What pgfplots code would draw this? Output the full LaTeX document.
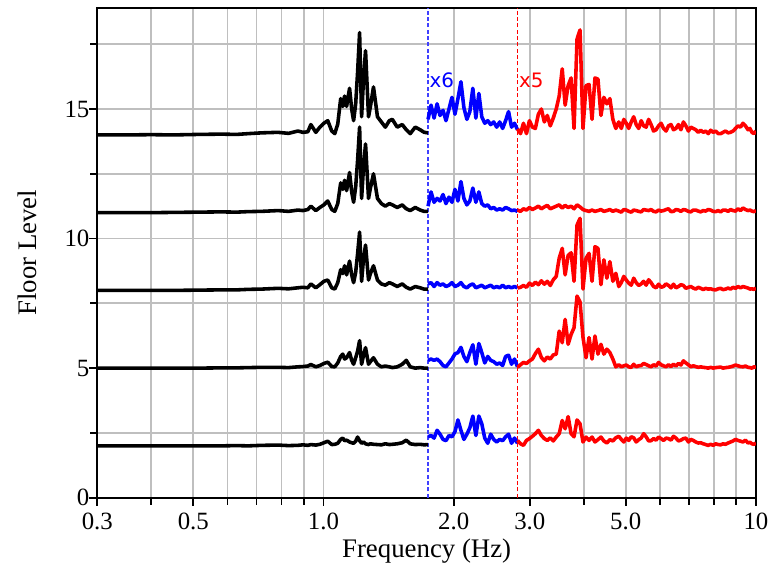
\documentclass[border=0pt]{standalone}
\usepackage{fontspec}
\setmainfont{Liberation Serif}
\newfontfamily\markfont{DejaVu Sans}
\usepackage{pgfplots}
\usepackage{pgfplotstable}
\pgfplotsset{compat=1.18}

% spectra by floor: a=14, b=11, c=8, d=5, e=2 (offset baselines)
\pgfplotstableread{
f a b c d e
0.300 14.00 11.00 8.00 5.00 2.00
0.350 14.00 11.00 8.00 5.00 2.00
0.400 14.01 11.00 8.00 5.00 2.00
0.450 14.00 11.01 8.00 5.00 2.00
0.515 14.02 11.02 8.01 5.00 2.00
0.580 14.03 11.03 8.02 5.01 2.00
0.630 14.02 11.02 8.02 5.01 2.01
0.670 14.05 11.04 8.04 5.02 2.00
0.720 14.08 11.05 8.05 5.03 2.02
0.785 14.10 11.08 8.08 5.03 2.03
0.830 14.06 11.05 8.06 5.02 2.01
0.873 14.15 11.10 8.10 5.05 2.02
0.896 14.10 11.08 8.12 5.06 2.04
0.920 14.12 11.12 8.10 5.08 2.02
0.935 14.40 11.25 8.25 5.14 2.05
0.960 14.10 11.08 8.10 5.05 2.03
0.981 14.30 11.20 8.22 5.10 2.06
1.002 14.45 11.30 8.35 5.18 2.12
1.023 14.55 11.45 8.40 5.23 2.18
1.045 14.15 11.12 8.10 5.06 2.05
1.062 14.05 11.05 8.05 5.05 2.06
1.079 14.42 11.35 8.30 5.20 2.10
1.096 15.40 12.15 8.80 5.45 2.25
1.108 15.10 11.90 8.65 5.54 2.30
1.119 15.50 12.25 8.95 5.35 2.20
1.131 15.10 11.85 8.60 5.40 2.22
1.149 15.80 12.55 9.13 5.60 2.15
1.162 15.00 11.80 8.60 5.30 2.12
1.174 14.55 11.40 8.30 5.15 2.10
1.187 15.20 12.00 8.70 5.40 2.18
1.199 16.40 13.00 9.40 5.65 2.34
1.212 17.95 14.30 10.25 6.06 2.20
1.225 14.70 11.55 8.35 5.15 2.10
1.238 16.20 12.80 9.25 5.50 2.15
1.251 17.25 13.65 9.75 5.79 2.08
1.271 14.70 11.55 8.40 5.15 2.05
1.284 15.10 11.95 8.65 5.25 2.08
1.305 15.85 12.50 8.95 5.40 2.06
1.333 14.70 11.55 8.40 5.15 2.05
1.361 14.50 11.35 8.25 5.05 2.04
1.390 14.30 11.25 8.20 5.08 2.08
1.420 14.55 11.35 8.30 5.05 2.05
1.443 14.60 11.30 8.25 5.02 2.06
1.481 14.30 11.20 8.15 5.05 2.08
1.521 14.40 11.30 8.25 5.15 2.12
1.554 14.20 11.15 8.12 5.30 2.22
1.587 14.05 11.08 8.05 5.05 2.08
1.630 14.30 11.20 8.15 5.00 2.05
1.673 14.20 11.10 8.10 5.02 2.06
1.709 14.10 11.05 8.05 5.00 2.04
1.745 14.08 11.05 8.05 5.00 2.05
}\lowband

\pgfplotstableread{
f a b c d e
1.745 14.60 11.25 8.25 5.30 2.35
1.773 15.15 11.80 8.30 5.35 2.40
1.802 14.65 11.40 8.15 5.30 2.30
1.831 15.20 11.55 8.30 5.35 2.60
1.860 14.75 11.45 8.20 5.25 2.45
1.890 14.95 11.70 8.25 5.10 2.25
1.920 14.55 11.35 8.15 5.05 2.20
1.951 15.00 11.60 8.20 5.20 2.40
1.982 15.45 11.40 8.30 5.35 2.35
2.014 14.80 11.90 8.15 5.55 2.55
2.046 15.40 11.45 8.20 5.60 3.00
2.079 16.05 12.20 8.30 5.80 2.60
2.112 15.05 11.55 8.15 5.45 2.25
2.146 14.60 11.30 8.10 5.25 2.45
2.180 14.90 11.45 8.20 5.60 2.70
2.215 15.80 11.95 8.25 5.90 3.15
2.251 14.65 11.40 8.10 5.15 2.40
2.287 15.60 11.80 8.15 5.95 3.15
2.323 14.70 11.35 8.20 5.60 2.85
2.360 14.45 11.25 8.10 5.20 2.30
2.398 14.55 11.30 8.15 5.45 2.10
2.436 14.40 11.15 8.20 5.30 2.45
2.475 14.50 11.20 8.10 5.25 2.25
2.515 14.30 11.10 8.15 5.15 2.15
2.555 14.50 11.15 8.10 5.20 2.25
2.596 14.25 11.10 8.20 5.10 2.20
2.637 14.55 11.20 8.10 5.45 2.35
2.679 14.90 11.15 8.15 5.50 2.45
2.722 14.30 11.08 8.10 5.15 2.10
2.765 14.45 11.10 8.15 5.35 2.30
2.810 14.20 11.05 8.10 5.05 2.10
}\midband

\pgfplotstableread{
f a b c d e
2.810 14.23 11.10 8.09 5.03 2.21
2.855 14.05 11.05 8.12 5.13 2.08
2.900 14.45 11.15 8.19 5.22 2.02
2.947 14.05 11.10 8.12 5.18 2.21
2.994 14.55 11.20 8.28 5.28 2.28
3.042 14.30 11.12 8.19 5.35 2.37
3.090 14.25 11.18 8.32 5.56 2.47
3.140 14.80 11.25 8.22 5.73 2.60
3.190 15.00 11.15 8.37 5.41 2.40
3.241 14.50 11.22 8.24 5.28 2.28
3.293 14.75 11.28 8.35 5.43 2.21
3.345 14.35 11.15 8.19 5.35 2.31
3.399 14.65 11.20 8.41 5.51 2.19
3.453 15.00 11.25 8.54 5.54 2.34
3.508 15.50 11.30 9.24 6.43 2.47
3.565 16.55 11.18 9.62 5.98 2.98
3.621 15.15 11.28 8.60 6.88 2.66
3.679 15.90 11.20 9.35 5.92 3.13
3.738 16.20 11.25 9.45 6.30 2.47
3.797 14.25 11.15 8.35 6.56 2.35
3.858 17.70 11.30 10.52 7.78 3.00
3.920 18.05 11.22 10.78 7.55 2.85
3.982 14.25 11.12 8.05 6.20 2.15
4.047 15.90 11.08 9.24 5.40 2.34
4.112 15.95 11.05 9.43 6.18 2.21
4.178 14.60 11.10 8.35 5.35 2.34
4.244 16.20 11.05 9.69 6.24 2.15
4.312 16.15 11.08 9.62 5.54 2.24
4.381 14.75 11.12 8.22 5.92 2.34
4.450 15.45 11.05 9.18 5.54 2.19
4.522 15.20 11.08 8.47 5.73 2.11
4.594 15.40 11.12 9.11 5.60 2.24
4.668 14.60 11.05 8.35 5.35 2.19
4.742 14.25 11.10 8.66 5.05 2.31
4.818 14.50 11.06 8.15 5.13 2.37
4.883 14.25 11.02 8.30 5.05 2.25
4.948 14.60 11.12 8.54 5.09 2.15
5.014 14.45 11.10 8.40 5.12 2.30
5.080 14.25 11.05 8.28 5.05 2.21
5.148 14.50 11.02 8.20 5.03 2.35
5.216 14.70 11.10 8.47 5.15 2.31
5.286 14.40 11.08 8.30 5.05 2.15
5.356 14.25 11.05 8.19 5.09 2.24
5.427 14.55 11.03 8.25 5.10 2.30
5.499 14.35 11.12 8.35 5.18 2.47
5.573 14.30 11.10 8.20 5.14 2.35
5.647 14.60 11.08 8.41 5.09 2.19
5.722 14.40 11.12 8.30 5.05 2.20
5.798 14.15 11.05 8.15 5.13 2.28
5.876 14.20 11.03 8.10 5.08 2.22
5.954 14.35 11.10 8.24 5.22 2.34
6.034 14.45 11.06 8.12 5.13 2.28
6.114 14.25 11.08 8.15 5.09 2.21
6.196 14.15 11.12 8.25 5.05 2.30
6.278 14.35 11.15 8.19 5.13 2.28
6.362 14.40 11.04 8.10 5.06 2.22
6.446 14.20 11.05 8.24 5.15 2.37
6.532 14.25 11.12 8.10 5.08 2.30
6.619 14.40 11.10 8.15 5.18 2.19
6.707 14.20 11.05 8.22 5.12 2.22
6.796 14.50 11.12 8.19 5.28 2.28
6.887 14.35 11.10 8.08 5.20 2.30
6.979 14.15 11.05 8.12 5.13 2.15
7.070 14.30 11.03 8.15 5.05 2.25
7.163 14.25 11.10 8.09 5.09 2.21
7.259 14.20 11.10 8.05 5.06 2.15
7.356 14.10 11.06 8.12 5.03 2.11
7.454 14.18 11.03 8.08 5.05 2.12
7.553 14.10 11.08 8.03 5.03 2.08
7.653 14.15 11.06 8.08 5.02 2.05
7.755 14.05 11.12 8.05 5.00 2.02
7.859 14.18 11.10 8.06 5.03 2.06
7.964 14.10 11.05 8.03 5.00 2.02
8.070 14.15 11.04 8.02 5.02 2.08
8.177 14.05 11.08 8.06 5.03 2.05
8.285 14.05 11.03 8.08 5.04 2.04
8.395 14.10 11.10 8.03 5.00 2.08
8.507 14.15 11.10 8.05 5.02 2.06
8.620 14.08 11.05 8.09 5.03 2.11
8.736 14.10 11.12 8.05 5.05 2.15
8.853 14.15 11.08 8.12 5.08 2.19
8.970 14.25 11.06 8.08 5.12 2.25
9.090 14.35 11.15 8.15 5.09 2.21
9.211 14.30 11.08 8.10 5.06 2.18
9.333 14.45 11.18 8.15 5.05 2.15
9.457 14.35 11.12 8.12 5.08 2.22
9.583 14.20 11.08 8.09 5.03 2.11
9.685 14.25 11.10 8.05 5.02 2.14
9.788 14.10 11.06 8.06 5.00 2.08
9.893 14.05 11.04 8.04 5.05 2.06
10.00 14.15 11.08 8.09 5.03 2.11
}\highband

\begin{document}
\begin{tikzpicture}
\begin{axis}[
  scale only axis, width=331.5pt, height=246.5pt,
  xmode=log, xmin=0.3, xmax=10, ymin=0, ymax=18.9,
  xtick={0.3,0.5,1,2,3,5,10},
  xticklabels={\textrm{0.3},\textrm{0.5},\textrm{1.0},\textrm{2.0},\textrm{3.0},\textrm{5.0},\textrm{10}},
  minor xtick={0.4,0.6,0.7,0.8,0.9,4,6,7,8,9},
  ytick={0,5,10,15}, minor ytick={2.5,7.5,12.5,17.5},
  yticklabel={\textrm{\pgfmathprintnumber[assume math mode=true]{\tick}}},
  yticklabel style={xshift=3.5pt},
  grid=both,
  major grid style={black!25, line width=0.9pt},
  minor grid style={black!25, line width=0.9pt},
  tick pos=left, tick align=outside,
  major tick length=4pt, minor tick length=3.5pt,
  every tick/.style={black, line width=0.9pt},
  axis line style={line width=1pt},
  xlabel={Frequency (Hz)}, ylabel={Floor Level},
  xlabel style={at={(axis description cs:0.5,-0.11)}, anchor=center},
  ylabel style={at={(axis description cs:-0.1056,0.5)}, anchor=center},
  label style={font=\fontsize{13.5}{15}\selectfont},
  tick label style={font=\rmfamily\fontsize{12.5}{14}\selectfont},
  every axis plot/.append style={line width=1.8pt, line join=round},
]
% band limits
\addplot[color=blue!75, line width=0.6pt, dash pattern=on 2pt off 1.2pt] coordinates {(1.745,0) (1.745,18.9)};
\addplot[color=red, line width=0.7pt, dash pattern=on 2pt off 1.2pt] coordinates {(2.81,0) (2.81,18.9)};

\addplot[black] table[x=f, y=a] {\lowband};
\addplot[black] table[x=f, y=b] {\lowband};
\addplot[black] table[x=f, y=c] {\lowband};
\addplot[black] table[x=f, y=d] {\lowband};
\addplot[black] table[x=f, y=e] {\lowband};

\addplot[blue] table[x=f, y=a] {\midband};
\addplot[blue] table[x=f, y=b] {\midband};
\addplot[blue] table[x=f, y=c] {\midband};
\addplot[blue] table[x=f, y=d] {\midband};
\addplot[blue] table[x=f, y=e] {\midband};

\addplot[red] table[x=f, y=a] {\highband};
\addplot[red] table[x=f, y=b] {\highband};
\addplot[red] table[x=f, y=c] {\highband};
\addplot[red] table[x=f, y=d] {\highband};
\addplot[red] table[x=f, y=e] {\highband};

\node[anchor=base west, inner sep=0.6pt, text=blue, font=\markfont\fontsize{10}{12}\selectfont] at (axis cs:1.745,15.84) {x6};
\node[anchor=base west, inner sep=0.6pt, text=red, font=\markfont\fontsize{10}{12}\selectfont] at (axis cs:2.81,15.84) {x5};
\end{axis}
\path (current axis.south west) ++(-49pt,-36pt);
\path (current axis.north east) ++(7pt,4pt);
\end{tikzpicture}
\end{document}
